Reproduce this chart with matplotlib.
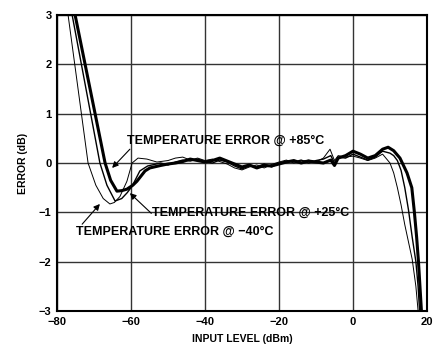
import matplotlib.pyplot as plt
import numpy as np

plt.rcParams["font.family"] = ["Liberation Sans", "DejaVu Sans"]

# temperature error curves (x: dBm, y: dB)
x_85 = [-75.1, -72.4, -69.7, -67.0, -65.5, -63.8, -62.5, -61.1, -59.5, -58.4, -56.2, -54.9,
        -52, -50, -48, -46, -44, -42, -40, -38, -36, -34, -32, -30, -28, -26, -24, -22, -20,
        -18, -16, -14, -12, -10, -8, -6, -5, -4, -2, 0, 2, 4, 6, 8, 9.5, 11, 12.7, 14.6, 15.9,
        16.6, 17.2, 17.7, 18.1, 18.5]
err_85 = [3.0, 2.0, 1.0, 0.0, -0.35, -0.57, -0.56, -0.53, -0.45, -0.37, -0.16, -0.1,
          -0.05, -0.02, 0.0, 0.03, 0.08, 0.05, 0.02, 0.05, 0.1, 0.04, -0.02, -0.08, -0.04, -0.1,
          -0.05, -0.06, -0.02, 0.02, 0.05, 0.0, 0.04, 0.02, 0.0, 0.06, -0.05, 0.1, 0.15, 0.24,
          0.18, 0.1, 0.15, 0.28, 0.32, 0.25, 0.1, -0.2, -0.5, -1.0, -1.5, -2.0, -2.5, -3.0]

x_25 = [-75.9, -73.4, -70.9, -68.4, -66.5, -64.3, -62.5, -61.0, -59.7, -57.6, -55.5,
        -52, -50, -48, -46, -44, -42, -40, -38, -36, -34, -32, -30, -28, -26, -24, -22, -20,
        -18, -16, -14, -12, -10, -8, -6, -5, -4, -2, 0, 2, 4, 6, 8, 10, 11, 12, 13, 14, 15,
        16, 17, 17.6, 18.0]
err_25 = [3.0, 2.0, 1.0, 0.0, -0.45, -0.77, -0.72, -0.6, -0.47, -0.16, -0.06,
          0.0, -0.04, 0.02, 0.06, 0.04, 0.08, 0.03, 0.0, 0.06, 0.02, -0.06, -0.12, -0.06,
          -0.08, -0.02, -0.08, 0.0, 0.04, 0.02, 0.06, 0.0, 0.05, 0.08, 0.15, 0.0, 0.12, 0.1,
          0.18, 0.12, 0.06, 0.12, 0.24, 0.2, 0.15, 0.05, -0.15, -0.5, -0.95, -1.5, -2.0, -2.5,
          -3.0]

x_m40 = [-77.0, -75.2, -73.4, -71.6, -69.5, -67.5, -65.7, -64.5, -63.0, -61.1, -59.7, -58.1,
         -55.7, -53, -50, -48, -46, -44, -42, -40, -38, -36, -34, -32, -30, -28, -26, -24, -22,
         -20, -18, -16, -14, -12, -10, -8, -6.2, -5, -4, -2, 0, 2, 4, 6, 8, 10, 11, 12, 13, 14,
         15, 16, 17, 17.6]
err_m40 = [3.0, 2.0, 1.0, 0.0, -0.45, -0.72, -0.83, -0.8, -0.68, -0.37, 0.0, 0.1,
           0.08, 0.02, 0.05, 0.1, 0.12, 0.06, 0.1, 0.05, 0.08, 0.03, -0.02, -0.1, -0.14, -0.08,
           -0.04, -0.1, -0.03, 0.02, 0.06, 0.0, 0.04, 0.06, 0.02, 0.1, 0.28, 0.05, 0.15, 0.12,
           0.14, 0.1, 0.05, 0.1, 0.18, 0.0, -0.2, -0.5, -0.85, -1.25, -1.6, -1.95, -2.5, -3.0]

fig = plt.figure(figsize=(4.33, 3.47), dpi=100)
ax = fig.add_axes([0.1316, 0.1037, 0.8545, 0.853])

ax.plot(x_m40, err_m40, color="black", lw=0.7)
ax.plot(x_25, err_25, color="black", lw=1.0)
ax.plot(x_85, err_85, color="black", lw=2.2)

ax.set_xlim(-80, 20)
ax.set_ylim(-3, 3)
ax.set_xticks(np.arange(-80, 21, 20))
ax.set_yticks(np.arange(-3, 4, 1))
ax.grid(True, color="#333333", lw=1.0)
ax.set_axisbelow(True)
for s in ax.spines.values():
    s.set_linewidth(1.5)
ax.tick_params(length=0, labelsize=8, pad=4)
for lab in ax.get_xticklabels() + ax.get_yticklabels():
    lab.set_fontweight("bold")

ax.set_xlabel("INPUT LEVEL (dBm)", fontsize=7.5, fontweight="bold", labelpad=5)
ax.set_ylabel("ERROR (dB)", fontsize=7.5, fontweight="bold", labelpad=8)

arrow = dict(arrowstyle="-|>", color="black", lw=0.8, mutation_scale=9,
             shrinkA=0, shrinkB=0)
txt = dict(fontsize=9, fontweight="bold", va="center", ha="left")
ax.annotate("", xy=(-65.1, -0.1), xytext=(-60.3, 0.28), arrowprops=arrow)
ax.text(-61.1, 0.45, "TEMPERATURE ERROR @ +85°C", **txt)
ax.annotate("", xy=(-60.3, -0.61), xytext=(-54.5, -1.02), arrowprops=arrow)
ax.text(-54.3, -1.01, "TEMPERATURE ERROR @ +25°C", **txt)
ax.annotate("", xy=(-68.4, -0.83), xytext=(-73.2, -1.24), arrowprops=arrow)
ax.text(-74.9, -1.40, "TEMPERATURE ERROR @ \u221240°C", **txt)

plt.savefig("out.png", dpi=100)
